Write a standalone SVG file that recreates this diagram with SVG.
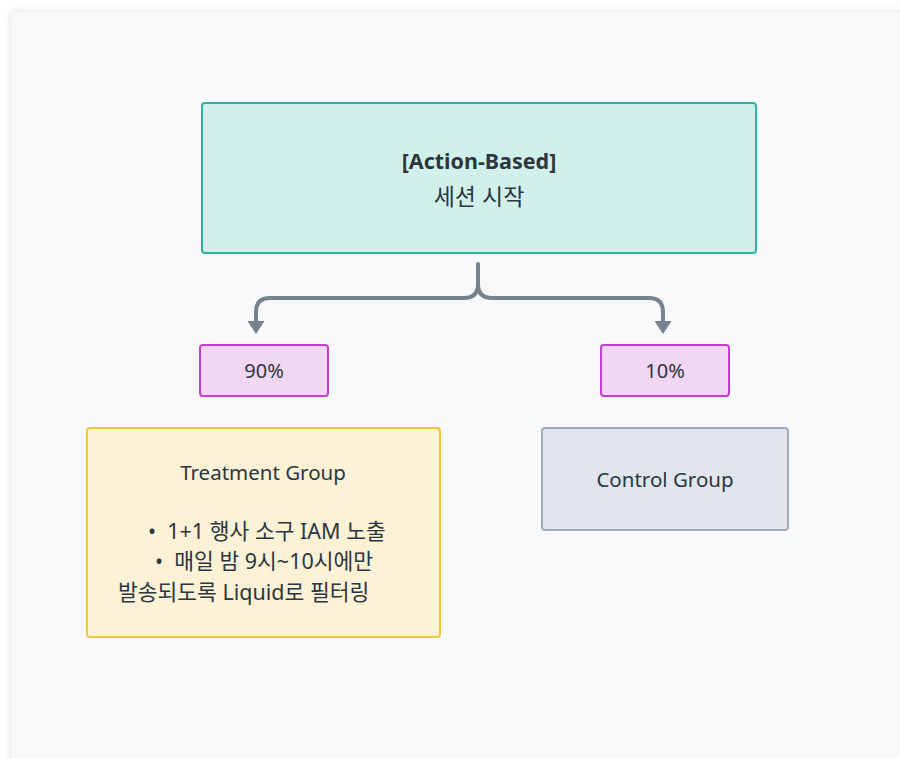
<svg xmlns="http://www.w3.org/2000/svg" width="900" height="758" viewBox="0 0 900 758">
  <defs>
    <filter id="sh" x="-5%" y="-5%" width="110%" height="110%">
      <feGaussianBlur in="SourceAlpha" stdDeviation="4"/>
      <feOffset dx="0" dy="0"/>
      <feComponentTransfer><feFuncA type="linear" slope="0.12"/></feComponentTransfer>
      <feMerge><feMergeNode/><feMergeNode in="SourceGraphic"/></feMerge>
    </filter>
    <marker id="arr" markerUnits="userSpaceOnUse" viewBox="0 0 13 17" markerWidth="13" markerHeight="17" refX="1" refY="8.5" orient="auto">
      <path d="M0,0 L13,8.5 L0,17 z" fill="#76828e"/>
    </marker>
  </defs>
  <style>
    text { font-family: "Noto Sans", "Noto Sans CJK KR", sans-serif; fill: #2b3640; white-space: pre; }
    .t { font-size: 20.5px; }
    .k { font-size: 21.5px; }
    .c { text-anchor: middle; }
    .b { font-weight: bold; font-size: 21.5px; }
    .edge { fill: none; stroke: #76828e; stroke-width: 4; stroke-linecap: round; stroke-linejoin: round; }
  </style>
  <rect x="0" y="0" width="900" height="758" fill="#ffffff"/>
  <rect x="11" y="12" width="900" height="760" rx="4" fill="#f8f9fb" filter="url(#sh)"/>

  <g id="connectors">
    <path class="edge" d="M478,264 L478,284 Q478,298 464,298 L270,298 Q256,298 256,312 L256,322" marker-end="url(#arr)"/>
    <path class="edge" d="M478,284 Q478,298 492,298 L649,298 Q663,298 663,312 L663,322" marker-end="url(#arr)"/>
  </g>

  <g id="start">
    <rect x="202" y="103" width="554" height="150" rx="3" fill="#d2f0ea" stroke="#2fb3a1" stroke-width="2"/>
    <text class="b c" x="479" y="169">[Action-Based]</text>
    <text class="c" x="479" y="205" style="font-size:23px">세션 시작</text>
  </g>

  <g id="p90">
    <rect x="200" y="345" width="128" height="51" rx="3" fill="#f2d7f5" stroke="#c43fd0" stroke-width="2"/>
    <text class="c" x="264" y="378" style="font-size:20px">90%</text>
  </g>

  <g id="p10">
    <rect x="601" y="345" width="128" height="51" rx="3" fill="#f2d7f5" stroke="#c43fd0" stroke-width="2"/>
    <text class="c" x="665" y="378" style="font-size:20px">10%</text>
  </g>

  <g id="treatment">
    <rect x="87" y="428" width="353" height="209" rx="3" fill="#fdf1d6" stroke="#f2c540" stroke-width="2"/>
    <text class="t c" x="263" y="480">Treatment Group</text>
    <text class="k" x="148" y="539" xml:space="preserve">•  1+1 행사 소구 IAM 노출</text>
    <text class="k" x="155" y="569" xml:space="preserve">•  매일 밤 9시~10시에만</text>
    <text class="k" x="118" y="600">발송되도록 Liquid로 필터링</text>
  </g>

  <g id="control">
    <rect x="542" y="428" width="246" height="102" rx="3" fill="#e2e5eb" stroke="#9eabb8" stroke-width="2"/>
    <text class="t c" x="665" y="487">Control Group</text>
  </g>
</svg>
